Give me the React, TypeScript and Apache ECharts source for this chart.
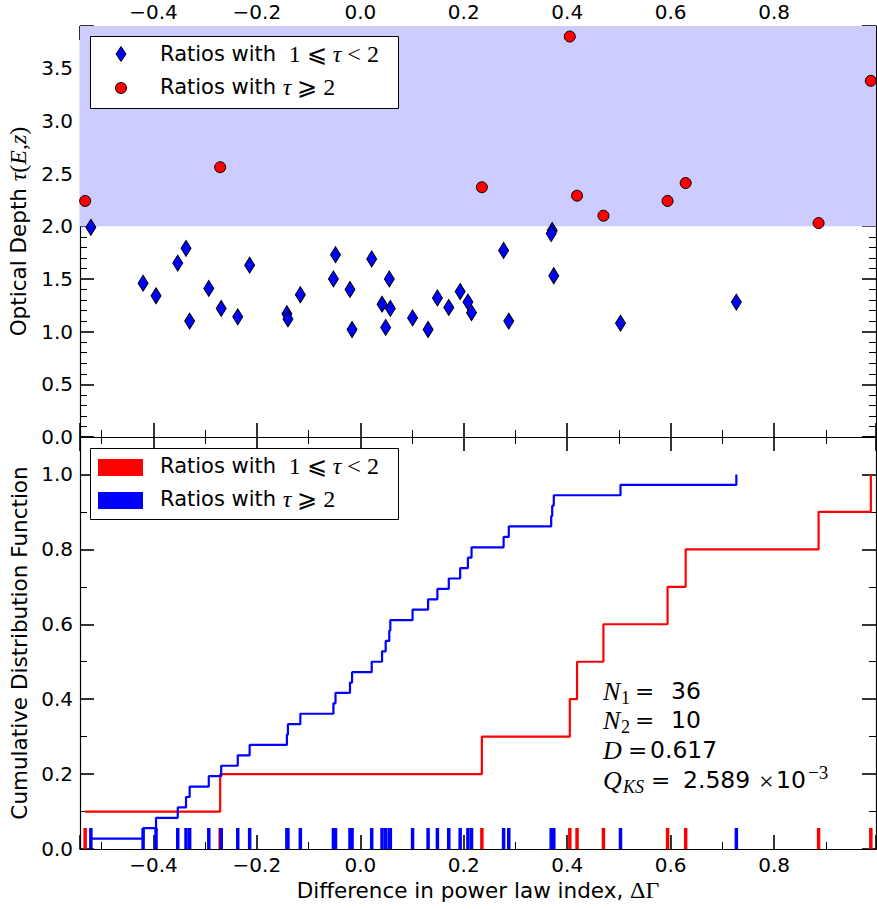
import React, { useEffect, useRef } from 'react';
import * as echarts from 'echarts';

// ---- data ----
// Ratios with 1 <= tau < 2 (blue diamonds)
const lowTauDeltaGamma = [
  -0.521, -0.42, -0.395, -0.353, -0.337, -0.33, -0.293, -0.269, -0.237, -0.214,
  -0.142, -0.14, -0.116, -0.052, -0.048, -0.02, -0.016, 0.022, 0.042, 0.049,
  0.056, 0.058, 0.101, 0.131, 0.149, 0.171, 0.193, 0.208, 0.215, 0.277,
  0.287, 0.371, 0.369, 0.374, 0.503, 0.727,
];
const lowTauDepth = [
  1.99, 1.46, 1.34, 1.65, 1.79, 1.1, 1.41, 1.22, 1.14, 1.63,
  1.17, 1.12, 1.35, 1.5, 1.73, 1.4, 1.02, 1.69, 1.26, 1.04,
  1.5, 1.22, 1.13, 1.02, 1.32, 1.23, 1.38, 1.28, 1.18, 1.77,
  1.1, 1.96, 1.93, 1.53, 1.08, 1.28,
];
// Ratios with tau >= 2 (red circles)
const highTauDeltaGamma = [-0.532, -0.271, 0.235, 0.405, 0.419, 0.47, 0.594, 0.629, 0.886, 0.987];
const highTauDepth = [2.24, 2.56, 2.37, 3.8, 2.29, 2.1, 2.24, 2.41, 2.03, 3.38];

const shadedDepthRange = [2.0, 3.9];
const deltaGammaRange = [-0.542, 0.997];
const depthAxisRange = [0, 3.9];
const cdfAxisRange = [0, 1.1];

const legendLabels = ['Ratios with 1 ⩽ τ < 2', 'Ratios with τ ⩾ 2'];
const statN1 = String(lowTauDeltaGamma.length);
const statN2 = String(highTauDeltaGamma.length);
const statD = '0.617';
const statQks = '2.589';
const statQksExp = '−3';

const FONT = 'DejaVu Sans';
const MATH = 'Liberation Serif';
const BLUE = '#0000ff';
const RED = '#ff0000';

function ecdf(xs: number[]) {
  const s = [...xs].sort((a, b) => a - b);
  return s.map((x, i) => [x, (i + 1) / s.length]);
}

const fmtStep = (step: number) => (v: number) => {
  const k = v / step;
  if (Math.abs(k - Math.round(k)) > 1e-6) return '';
  if (Math.abs(v) < 1e-9) return '0.0';
  return (v < 0 ? '\u2212' : '') + Math.abs(v).toFixed(1);
};

const nameRich = {
  s: { fontFamily: FONT, fontSize: 21.5, color: '#000' },
  m: { fontFamily: MATH, fontSize: 24, color: '#000' },
  i: { fontFamily: MATH, fontSize: 24, fontStyle: 'italic', color: '#000' },
};
const legendRich = {
  s: { fontFamily: FONT, fontSize: 21, color: '#000' },
  m: { fontFamily: MATH, fontSize: 24, color: '#000' },
  i: { fontFamily: MATH, fontSize: 24, fontStyle: 'italic', color: '#000' },
};

const tickCommon = {
  axisLine: { show: true, onZero: false, lineStyle: { color: '#000', width: 1.2 } },
  axisTick: { show: true, inside: true, length: 14, lineStyle: { color: '#000', width: 1.6 } },
  splitLine: { show: false },
  minorSplitLine: { show: false },
};

function xAxisCfg(gridIndex: number, position: string, labels: boolean, extra: any = {}) {
  return {
    type: 'value',
    gridIndex,
    position,
    min: deltaGammaRange[0],
    max: deltaGammaRange[1],
    splitNumber: 8,
    minInterval: 0.2,
    maxInterval: 0.2,
    ...tickCommon,
    minorTick: { show: true, splitNumber: 2, length: 7, lineStyle: { color: '#000', width: 1 } },
    axisLabel: {
      show: labels,
      margin: position === 'top' ? 4 : 6,
      fontFamily: FONT,
      fontSize: 20,
      color: '#000',
      formatter: fmtStep(0.2),
    },
    ...extra,
  };
}

function yAxisCfg(gridIndex: number, position: string, labels: boolean, range: number[], interval: number, minorSplit: number, extra: any = {}) {
  return {
    type: 'value',
    gridIndex,
    position,
    min: range[0],
    max: range[1],
    interval,
    ...tickCommon,
    minorTick: { show: true, splitNumber: minorSplit, length: 7, lineStyle: { color: '#000', width: 1 } },
    axisLabel: {
      show: labels,
      margin: 7,
      fontFamily: FONT,
      fontSize: 20,
      color: '#000',
      formatter: fmtStep(interval),
    },
    ...extra,
  };
}

const STAT_STYLES: any = {
  mi: { fontFamily: MATH, fontSize: 26, fontStyle: 'italic' },
  eq: { fontFamily: 'DejaVu Serif', fontSize: 23 },
  x: { fontFamily: MATH, fontSize: 26 },
  n: { fontFamily: FONT, fontSize: 23.5 },
  sub: { fontFamily: MATH, fontSize: 18 },
  subi: { fontFamily: MATH, fontSize: 18, fontStyle: 'italic' },
  sup: { fontFamily: MATH, fontSize: 19 },
};

export default function App() {
  const ref = useRef<HTMLDivElement>(null);

  useEffect(() => {
    if (!ref.current) return;
    const chart = echarts.init(ref.current, undefined, { renderer: 'svg' });

    const lowPts = lowTauDeltaGamma.map((x, i) => [x, lowTauDepth[i]]);
    const highPts = highTauDeltaGamma.map((x, i) => [x, highTauDepth[i]]);

    const legendText = (x: number, y: number, text: string) => ({
      type: 'text',
      x,
      y,
      z: 102,
      style: {
        text,
        rich: legendRich,
        fontFamily: FONT,
        fontSize: 21,
        fill: '#000',
        align: 'left',
        verticalAlign: 'middle',
        textAlign: 'left',
        textVerticalAlign: 'middle',
      },
    });

    const legendMath = (t: string) =>
      t.replace('Ratios with ', '{s|Ratios with }')
        .replace('1 ⩽ ', '{m| 1 ⩽ }')
        .replace('τ ⩾ 2', '{i|τ}{m| ⩾ 2}')
        .replace('τ < 2', '{i|τ}{m| < 2}');

    // text pieces of the statistics box: [text, style, x, y]
    const statPieces: [string, string, number, number][] = [
      ['N', 'mi', 603, 691], ['1', 'sub', 621, 698], ['=', 'eq', 635, 691], [statN1, 'n', 671, 691],
      ['N', 'mi', 603, 720], ['2', 'sub', 621, 727], ['=', 'eq', 635, 720], [statN2, 'n', 671, 720],
      ['D', 'mi', 603, 750], ['=', 'eq', 628, 750], [statD, 'n', 650, 750],
      ['Q', 'mi', 603, 780], ['KS', 'subi', 623, 787], ['=', 'eq', 651, 780], [statQks, 'n', 683, 780],
      ['×', 'x', 759, 781], ['10', 'n', 776, 780], [statQksExp, 'sup', 808, 772],
    ];
    const statGraphics = statPieces.map(([t, k, x, y]) => ({
      type: 'text',
      x,
      y,
      z: 102,
      style: {
        text: t,
        ...STAT_STYLES[k],
        fill: '#000',
        align: 'left',
        verticalAlign: 'middle',
        textAlign: 'left',
        textVerticalAlign: 'middle',
      },
    }));

    const option: any = {
      animation: false,
      backgroundColor: '#ffffff',
      grid: [
        { left: 80, top: 26, width: 796, height: 411, containLabel: false, outerBoundsMode: 'none' },
        { left: 80, top: 437, width: 796, height: 412, containLabel: false, outerBoundsMode: 'none' },
      ],
      xAxis: [
        xAxisCfg(0, 'top', true),
        xAxisCfg(0, 'bottom', false),
        xAxisCfg(1, 'bottom', true, {
          name: '{s|Difference in power law index, }{m|ΔΓ}',
          nameLocation: 'middle',
          nameGap: 29,
          nameTextStyle: { fontFamily: FONT, fontSize: 21.5, color: '#000', rich: nameRich },
        }),
        xAxisCfg(1, 'top', false),
      ],
      yAxis: [
        yAxisCfg(0, 'left', true, depthAxisRange, 0.5, 5, {
          name: '{s|Optical Depth }{i|τ}{m|(}{i|E}{m|,}{i|z}{m|)}',
          nameLocation: 'middle',
          nameGap: 44,
          nameRotate: 90,
          nameTextStyle: { fontFamily: FONT, fontSize: 21.5, color: '#000', rich: nameRich },
        }),
        yAxisCfg(0, 'right', false, depthAxisRange, 0.5, 5),
        yAxisCfg(1, 'left', true, cdfAxisRange, 0.2, 2, {
          name: 'Cumulative Distribution Function',
          nameLocation: 'middle',
          nameGap: 44,
          nameRotate: 90,
          nameTextStyle: { fontFamily: FONT, fontSize: 21.5, color: '#000' },
        }),
        yAxisCfg(1, 'right', false, cdfAxisRange, 0.2, 2),
      ],
      series: [
        {
          name: 'Ratios with 1 ⩽ τ < 2',
          type: 'scatter',
          xAxisIndex: 0,
          yAxisIndex: 0,
          symbol: 'diamond',
          symbolSize: [10, 16],
          itemStyle: { color: BLUE, borderColor: '#000', borderWidth: 1, opacity: 1 },
          data: lowPts,
          silent: true,
          z: 3,
          markArea: {
            silent: true,
            itemStyle: { color: '#ccccff', opacity: 1 },
            data: [[{ yAxis: shadedDepthRange[0] }, { yAxis: shadedDepthRange[1] }]],
          },
        },
        {
          name: 'Ratios with τ ⩾ 2',
          type: 'scatter',
          xAxisIndex: 0,
          yAxisIndex: 0,
          symbol: 'circle',
          symbolSize: 11,
          itemStyle: { color: RED, borderColor: '#000', borderWidth: 1, opacity: 1 },
          data: highPts,
          silent: true,
          z: 3,
        },
        {
          name: 'rug-high',
          type: 'scatter',
          xAxisIndex: 2,
          yAxisIndex: 2,
          symbol: 'rect',
          symbolSize: [3.5, 21],
          symbolOffset: [0, -10.5],
          itemStyle: { color: RED, opacity: 1 },
          data: highTauDeltaGamma.map((x) => [x, 0]),
          clip: false,
          silent: true,
          z: 2,
        },
        {
          name: 'rug-low',
          type: 'scatter',
          xAxisIndex: 2,
          yAxisIndex: 2,
          symbol: 'rect',
          symbolSize: [3.5, 21],
          symbolOffset: [0, -10.5],
          itemStyle: { color: BLUE, opacity: 1 },
          data: lowTauDeltaGamma.map((x) => [x, 0]),
          clip: false,
          silent: true,
          z: 2,
        },
        {
          name: 'cdf-high',
          type: 'line',
          xAxisIndex: 2,
          yAxisIndex: 2,
          step: 'end',
          showSymbol: false,
          symbol: 'none',
          lineStyle: { color: RED, width: 2.2 },
          data: ecdf(highTauDeltaGamma),
          silent: true,
          z: 4,
        },
        {
          name: 'cdf-low',
          type: 'line',
          xAxisIndex: 2,
          yAxisIndex: 2,
          step: 'end',
          showSymbol: false,
          symbol: 'none',
          lineStyle: { color: BLUE, width: 2.2 },
          data: ecdf(lowTauDeltaGamma),
          silent: true,
          z: 4,
        },
      ],
      graphic: [
        // top legend
        { type: 'rect', z: 100, shape: { x: 90.5, y: 36.5, width: 308, height: 72 }, style: { fill: '#fff', stroke: '#000', lineWidth: 1 } },
        { type: 'polygon', z: 101, shape: { points: [[121, 46.5], [126, 54], [121, 61.5], [116, 54]] }, style: { fill: BLUE, stroke: '#000', lineWidth: 1 } },
        { type: 'circle', z: 101, shape: { cx: 121, cy: 88, r: 5.5 }, style: { fill: RED, stroke: '#000', lineWidth: 1 } },
        legendText(160, 54, legendMath(legendLabels[0])),
        legendText(160, 87, legendMath(legendLabels[1])),
        // bottom legend
        { type: 'rect', z: 100, shape: { x: 90.5, y: 448.5, width: 308, height: 71 }, style: { fill: '#fff', stroke: '#000', lineWidth: 1 } },
        { type: 'rect', z: 101, shape: { x: 98, y: 459, width: 45, height: 17 }, style: { fill: RED } },
        { type: 'rect', z: 101, shape: { x: 98, y: 492, width: 45, height: 17 }, style: { fill: BLUE } },
        legendText(160, 466, legendMath(legendLabels[0])),
        legendText(160, 499, legendMath(legendLabels[1])),
        // statistics
        ...statGraphics,
      ],
    };

    chart.setOption(option);
    return () => chart.dispose();
  }, []);

  return (
    <div
      ref={ref}
      style={{ position: 'fixed', left: 0, top: 0, width: 877, height: 909, background: '#fff' }}
    />
  );
}
